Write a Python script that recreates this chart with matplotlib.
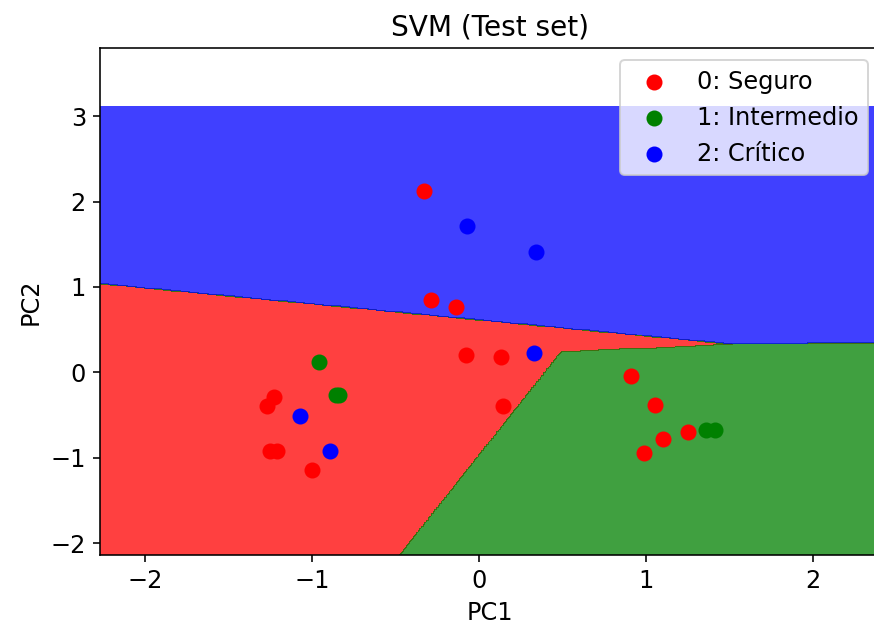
import numpy as np
import matplotlib
matplotlib.use("Agg")
import matplotlib.pyplot as plt
from matplotlib.colors import ListedColormap

# test set points (PC1, PC2) per class
seguro_x = [-0.33, -0.29, -0.14, -0.08, 0.13, 0.14, 0.91, 1.05, 1.10, 1.25, 0.99,
            -1.23, -1.27, -1.25, -1.21, -1.00]
seguro_y = [2.12, 0.85, 0.76, 0.20, 0.18, -0.40, -0.04, -0.38, -0.78, -0.70, -0.95,
            -0.29, -0.40, -0.92, -0.92, -1.14]
inter_x = [-0.96, -0.86, -0.84, 1.36, 1.41]
inter_y = [0.12, -0.27, -0.26, -0.67, -0.67]
critico_x = [-0.07, 0.34, 0.33, -1.07, -0.89]
critico_y = [1.71, 1.41, 0.23, -0.51, -0.92]

labels = ["0: Seguro", "1: Intermedio", "2: Crítico"]
colors = ["red", "green", "blue"]

# decision boundary vertices (approximate)
top_bx = [-2.27, 1.52, 2.41]      # blue above this line
top_by = [1.04, 0.33, 0.35]
rg_bx = [-0.48, 0.49, 1.52]       # red above/left, green below/right
rg_by = [-2.15, 0.24, 0.33]

plt.rcParams["font.size"] = 12

all_x = np.array(seguro_x + inter_x + critico_x)
all_y = np.array(seguro_y + inter_y + critico_y)

X1, X2 = np.meshgrid(np.arange(all_x.min() - 1, all_x.max() + 1, 0.01),
                     np.arange(all_y.min() - 1, all_y.max() + 1, 0.01))
y_top = np.interp(X1, top_bx, top_by)
y_rg = np.interp(X1, rg_bx, rg_by)
Z = np.where(X2 > y_top, 2, np.where(X2 >= y_rg, 0, 1))

fig = plt.figure(figsize=(874 / 144, 633 / 144), dpi=144)
ax = fig.add_axes([100 / 874, (633 - 555) / 633, 780 / 874, (555 - 48) / 633])

ax.contourf(X1, X2, Z, levels=[-0.5, 0.5, 1.5, 2.5], alpha=0.75,
            cmap=ListedColormap(colors))
ax.set_xlim(X1.min(), X1.max())
ax.set_ylim(X2.min(), 3.8)

for xs, ys, c, lab in zip([seguro_x, inter_x, critico_x],
                          [seguro_y, inter_y, critico_y], colors, labels):
    ax.scatter(xs, ys, c=c, s=49, label=lab)

ax.set_title("SVM (Test set)", fontsize=14)
ax.set_xlabel("PC1")
ax.set_ylabel("PC2")
ax.legend(loc="upper right")

fig.savefig("out.png", dpi=144)
